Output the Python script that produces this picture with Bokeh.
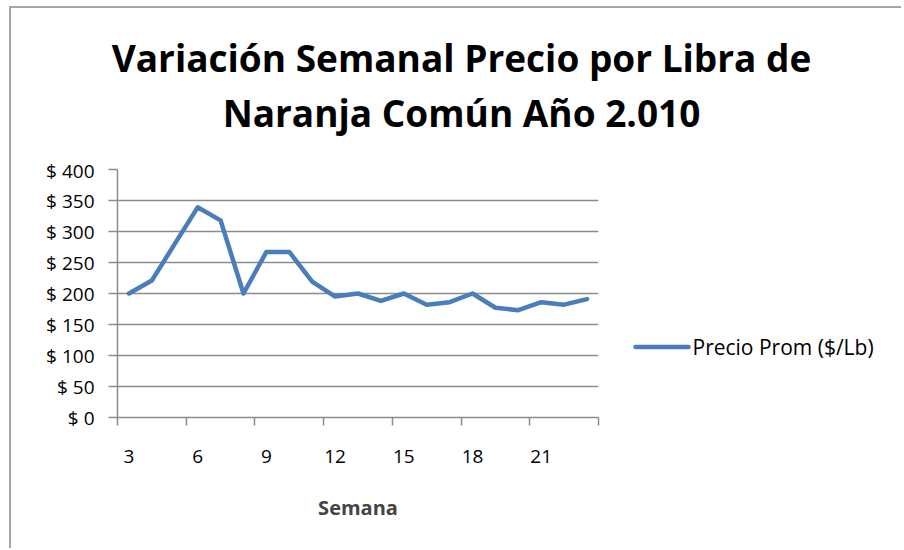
from bokeh.plotting import figure
from bokeh.layouts import column, row
from bokeh.models import LinearAxis, FixedTicker, Range1d, Grid
from bokeh.core.properties import value
from bokeh.embed import file_html
from bokeh.resources import INLINE

# ---- data ----
weeks = list(range(3, 24))
precio = [200, 221, 280, 339, 318, 200, 267, 267, 219, 195, 200,
          188, 200, 182, 186, 200, 177, 173, 186, 182, 191]
y_ticks = [0, 50, 100, 150, 200, 250, 300, 350, 400]
y_tick_labels = ["$ 0", "$ 50", "$ 100", "$ 150", "$ 200", "$ 250",
                 "$ 300", "$ 350", "$ 400"]
x_label_weeks = [3, 6, 9, 12, 15, 18, 21]
x_tick_marks = [2.5, 5.5, 8.5, 11.5, 14.5, 17.5, 20.5, 23.5]
title_lines = ["Variación Semanal Precio por Libra de",
               "Naranja Común Año 2.010"]
x_title = "Semana"
series_name = "Precio Prom ($/Lb)"

FONT = "Open Sans"
GRAY = "#8c8c8c"
BLUE = "#4a7ebb"

# ---- title strip (pixel-scaled ranges) ----
TW, TH = 890, 149
tf = figure(width=TW, height=TH, output_backend="svg", toolbar_location=None,
            x_range=Range1d(0, TW), y_range=Range1d(0, TH),
            x_axis_type=None, y_axis_type=None, title=None,
            min_border=0)
tf.outline_line_color = None
tf.grid.visible = False
tf.text(x=[450, 450], y=[100, 45], text=title_lines,
        text_align="center", text_baseline="alphabetic",
        text_font=value(FONT), text_font_style=value("bold"),
        text_font_size=value("37px"), text_color="black")

# ---- main chart ----
p = figure(width=589, height=391, output_backend="svg", toolbar_location=None,
           x_range=Range1d(2.5, 23.5), y_range=Range1d(0, 400),
           x_axis_type=None, y_axis_type=None, title=None,
           min_border_left=106, min_border_right=2,
           min_border_top=12, min_border_bottom=131)
p.outline_line_color = None

yaxis = LinearAxis(ticker=FixedTicker(ticks=y_ticks),
                   major_label_overrides={v: s for v, s in zip(y_ticks, y_tick_labels)})
yaxis.axis_line_color = GRAY
yaxis.axis_line_width = 1.5
yaxis.major_tick_line_color = GRAY
yaxis.major_tick_line_width = 1.5
yaxis.major_tick_out = 9
yaxis.major_tick_in = 0
yaxis.minor_tick_line_color = None
yaxis.major_label_standoff = 14
yaxis.major_label_text_font = FONT
yaxis.major_label_text_font_size = "19px"
yaxis.major_label_text_color = "black"
p.add_layout(yaxis, "left")

xaxis = LinearAxis(ticker=FixedTicker(ticks=x_label_weeks, minor_ticks=x_tick_marks),
                   axis_label=x_title)
xaxis.axis_line_color = GRAY
xaxis.axis_line_width = 1.5
xaxis.major_tick_line_color = None
xaxis.major_tick_out = 0
xaxis.minor_tick_line_color = GRAY
xaxis.minor_tick_line_width = 1.5
xaxis.minor_tick_out = 8
xaxis.minor_tick_in = 0
xaxis.major_label_standoff = 24
xaxis.major_label_text_font = FONT
xaxis.major_label_text_font_size = "19px"
xaxis.major_label_text_color = "black"
xaxis.axis_label_text_font = FONT
xaxis.axis_label_text_font_style = "bold"
xaxis.axis_label_text_font_size = "20px"
xaxis.axis_label_standoff = 28
p.add_layout(xaxis, "below")

p.add_layout(Grid(dimension=1, ticker=yaxis.ticker, grid_line_color=GRAY,
                  grid_line_width=1.5))

p.line(weeks, precio, line_color=BLUE, line_width=4.5,
       line_join="round", line_cap="round")

# ---- legend strip (pixel-scaled ranges) ----
LW, LH = 301, 391
lf = figure(width=LW, height=LH, output_backend="svg", toolbar_location=None,
            x_range=Range1d(0, LW), y_range=Range1d(0, LH),
            x_axis_type=None, y_axis_type=None, title=None, min_border=0)
lf.outline_line_color = None
lf.grid.visible = False
key_y = 111
lf.line(x=[35, 88], y=[key_y, key_y], line_color=BLUE, line_width=4.5,
        line_cap="round")
lf.text(x=[92], y=[key_y], text=[series_name], text_align="left",
        text_baseline="middle", text_font=value(FONT),
        text_font_size=value("21px"), text_color="black")

layout = column(tf, row(p, lf, spacing=0), spacing=0)
layout.styles = {"margin-left": "9px", "margin-top": "6px",
                 "border-left": "2px solid #a6a6a6",
                 "border-top": "2px solid #a6a6a6"}

open("out.html", "w").write(file_html(layout, INLINE))
